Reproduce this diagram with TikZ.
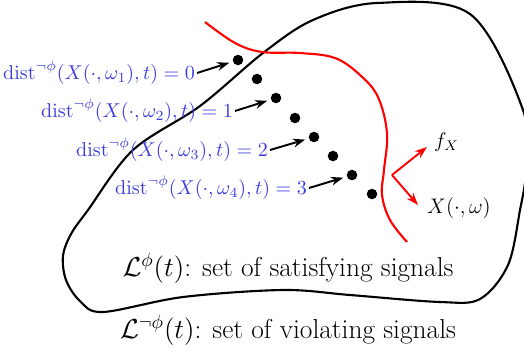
\RequirePackage{fix-cm}
\documentclass[tikz,border=0pt]{standalone}
\usepackage{xcolor}
\usepackage{tikz}
\usetikzlibrary{positioning, arrows.meta}

\definecolor{distblue}{RGB}{60,60,225}

\begin{document}
\begin{tikzpicture}[x=0.02cm, y=-0.02cm,
	dot/.style={circle, fill=black, inner sep=0pt, minimum size=6pt},
	dist/.style={anchor=east, text=distblue, inner sep=1pt, font=\fontsize{11.4}{14}\selectfont},
	pt/.style={-{Stealth[length=7pt, width=5pt]}, line width=1.1pt, shorten >=2pt}]
			\useasboundingbox (0,0) rectangle (524,356);
			
			% set of satisfying signals
			\draw[line width=1.2pt] plot[smooth cycle, tension=0.55] coordinates {
				(133,150) (200,106) (263,53) (313,20) (377,3) (470,14)
				(523,110) (526,170) (520,210) (508,265) (480,299) (440,302)
				(350,295) (283,290) (183,297) (103,312) (80,301)
				(66,280) (63,256) (71,234) (88,210)};
			
			% boundary
			\draw[red, line width=1.2pt] plot[smooth, tension=0.6] coordinates {
				(205,22) (235,43) (262,52) (300,53) (335,58) (360,75) (378,97)
				(387,133) (384,170) (382,195) (390,220) (407,242)};
			
			% signals
			\foreach \i/\x/\y in {1/238/60, 2/257/79, 3/276/98, 4/295/118,
				5/314/137, 6/333/156, 7/352/175, 8/372/194}
				\node[dot] (d\i) at (\x,\y) {};
			
			\node[dist] (l0) at (197,73) {$\mathrm{dist}^{\neg\phi}(X(\cdot,\omega_1),t)=0$};
			\node[dist] (l1) at (235,111) {$\mathrm{dist}^{\neg\phi}(X(\cdot,\omega_2),t)=1$};
			\node[dist] (l2) at (270,150) {$\mathrm{dist}^{\neg\phi}(X(\cdot,\omega_3),t)=2$};
			\node[dist] (l3) at (309,188) {$\mathrm{dist}^{\neg\phi}(X(\cdot,\omega_4),t)=3$};
			
			\draw[pt] (l0.east) -- (d1);
			\draw[pt] (l1.east) -- (d3);
			\draw[pt] (l2.east) -- (d5);
			\draw[pt] (l3.east) -- (d7);
			
			% directions
			\coordinate (o) at (392,175);
			\coordinate (fx) at (427,147);
			\coordinate (xw) at (418,205);
			\draw[pt, red, shorten >=0pt] (o) -- (fx);
			\draw[pt, red, shorten >=0pt] (o) -- (xw);
			\node[anchor=west, font=\large] (lfx) at (428,142) {$f_X$};
			\node[anchor=west, font=\large] (lxw) at (421,208) {$X(\cdot,\omega)$};
			
			\node[font=\fontsize{15.6}{18}\selectfont] (sat) at (288,268) {$\mathcal{L}^{\phi}(t)$: set of satisfying signals};
			\node[font=\fontsize{15.6}{18}\selectfont] (vio) at (288,330) {$\mathcal{L}^{\neg\phi}(t)$: set of violating signals};
\end{tikzpicture}
\end{document}
